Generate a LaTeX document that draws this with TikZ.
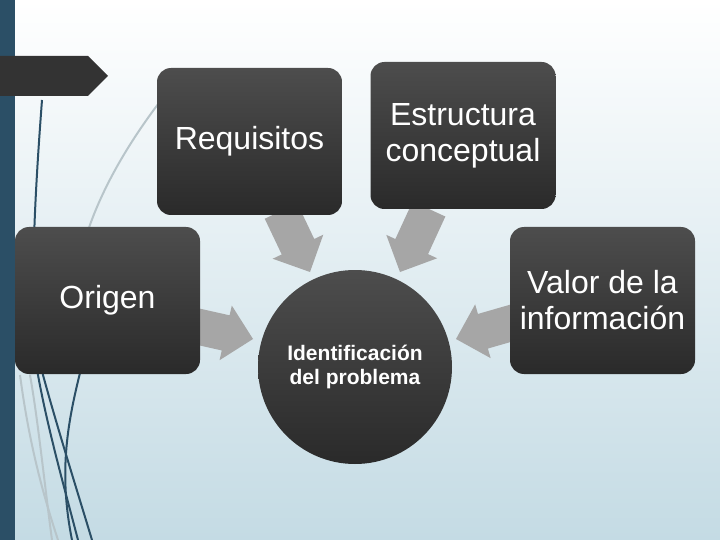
\documentclass[tikz,border=0pt]{standalone}
\usepackage{fontspec}
\setmainfont{Liberation Sans}
\usetikzlibrary{calc}

\begin{document}
\begin{tikzpicture}[x=1pt,y=-1pt,
  caja/.style={rounded corners=14pt, top color=colCaja, bottom color=colCajaOsc,
    minimum width=185pt, minimum height=147pt, inner sep=0pt,
    text=white, align=center, font=\fontsize{32}{36}\selectfont},
  centro/.style={circle, top color=colCaja, bottom color=colCajaOsc,
    minimum size=194pt, inner sep=0pt,
    text=white, align=center, font=\bfseries\fontsize{21}{24}\selectfont},
  deco/.style={colFranja, line width=2pt},
  decoGris/.style={colLinea, line width=2pt}]

% Colores
\definecolor{colFondo}{HTML}{C4DBE4}
\definecolor{colFranja}{HTML}{2B4F66}
\definecolor{colPestana}{HTML}{333333}
\definecolor{colCaja}{HTML}{4D4D4D}
\definecolor{colCajaOsc}{HTML}{2A2A2A}
\definecolor{colFlecha}{HTML}{A6A6A6}
\definecolor{colLinea}{HTML}{B8C5CA}

% Flecha gruesa de #1 (cola) a #2 (punta)
\def\flecha#1#2{%
  \coordinate (#1c) at ($(#2)!28pt!(#1)$);
  \fill[colFlecha] ($(#1)!18pt!90:(#2)$) -- ($(#1c)!18pt!90:(#2)$)
    -- ($(#1c)!28pt!90:(#2)$) -- (#2) -- ($(#1c)!28pt!-90:(#2)$)
    -- ($(#1c)!18pt!-90:(#2)$) -- ($(#1)!18pt!-90:(#2)$) -- cycle;}

% Fondo
\useasboundingbox (0,0) rectangle (720,540);
\shade[top color=white, bottom color=colFondo] (0,0) rectangle (720,540);
\fill[colFranja] (0,0) rectangle (15,540);

% Lineas decorativas
\draw[decoGris] (165,95) .. controls (130,140) and (100,190) .. (85,240);
\draw[decoGris] (20,375) .. controls (30,450) and (45,500) .. (58,540);
\draw[decoGris] (30,375) .. controls (38,420) and (44,480) .. (52,540);
\draw[deco] (42,100) .. controls (36,180) and (28,300) .. (38,375)
  .. controls (48,430) and (65,490) .. (78,540);
\draw[deco] (40,340) -- (43,375) .. controls (58,430) and (80,500) .. (92,540);
\draw[deco] (82,365) .. controls (68,420) and (58,470) .. (72,540);

% Pestana
\fill[colPestana] (0,56) -- (88,56) -- (108,76) -- (88,96) -- (0,96) -- cycle;

% Flechas
\coordinate (colaReq) at (281,211);
\coordinate (puntaReq) at (310,272);
\coordinate (colaEst) at (429,209);
\coordinate (puntaEst) at (400,272);
\coordinate (colaOri) at (195,326);
\coordinate (puntaOri) at (253,339);
\coordinate (colaVal) at (515,322);
\coordinate (puntaVal) at (456,339);
\flecha{colaReq}{puntaReq}
\flecha{colaEst}{puntaEst}
\flecha{colaOri}{puntaOri}
\flecha{colaVal}{puntaVal}

% Cajas
\node[caja] (req) at (249.5,141.5) {Requisitos};
\node[caja] (est) at (463,135.5) {Estructura\\conceptual};
\node[caja] (ori) at (107.5,300.5) {Origen};
\node[caja] (val) at (602.5,300.5) {Valor de la\\información};

% Circulo central
\node[centro] (prob) at (355,367) {Identificación\\del problema};

\end{tikzpicture}
\end{document}
